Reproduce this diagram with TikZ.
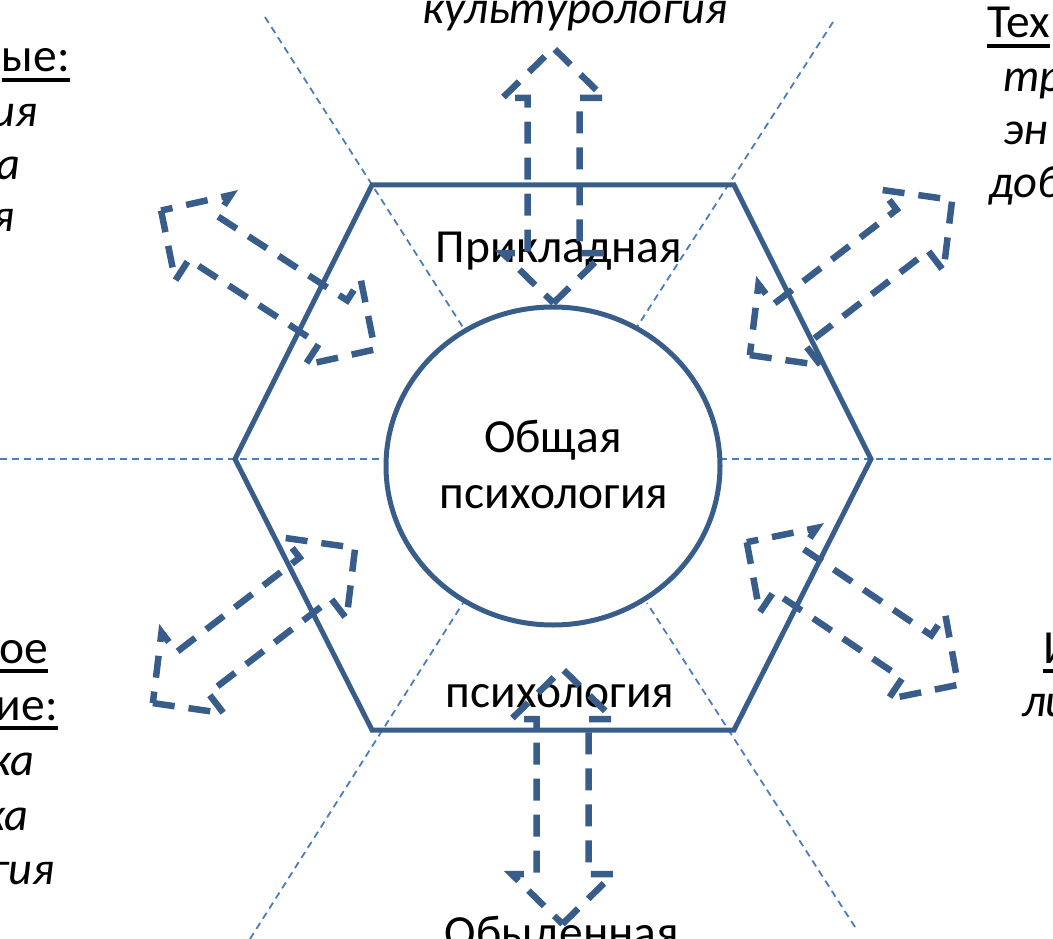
\documentclass[tikz,border=0pt]{standalone}
\usepackage{fontspec}
\setmainfont{Carlito}
\usetikzlibrary{shapes.geometric}
\definecolor{hexblue}{RGB}{56,93,138}
\definecolor{guideblue}{RGB}{74,126,187}
\newcommand\myul[1]{\setbox0\hbox{#1}\rlap{\rule[-10pt]{\wd0}{4pt}}\box0}
\begin{document}
\begin{tikzpicture}[x=1pt,y=-1pt,
  hexline/.style={draw=hexblue,line width=5pt,line join=miter},
  guide/.style={draw=guideblue,line width=1.8pt,dash pattern=on 7pt off 5pt},
  blockarrow/.style={draw=hexblue,line width=6.5pt,dash pattern=on 22pt off 14pt,line join=miter},
  lbl/.style={font=\fontsize{47.5}{57}\selectfont,inner sep=0pt},
  ilbl/.style={font=\fontsize{46.5}{56}\selectfont\itshape,inner sep=0pt},
  dblarrow/.pic={\draw[blockarrow] (-127.5,0) -- (-77.5,51) -- (-77.5,26) -- (77.5,26) -- (77.5,51) -- (127.5,0) -- (77.5,-51) -- (77.5,-26) -- (-77.5,-26) -- (-77.5,-51) -- cycle;}]
\useasboundingbox (0,0) rectangle (1053,939);
% guide lines
\coordinate (gL1) at (0,459);   \coordinate (gL2) at (386,459);
\coordinate (gR1) at (720,459); \coordinate (gR2) at (1053,459);
\coordinate (gTL1) at (265,17); \coordinate (gTL2) at (464,329);
\coordinate (gTR1) at (833,22); \coordinate (gTR2) at (637,327);
\coordinate (gBL1) at (250,939); \coordinate (gBL2) at (463,603);
\coordinate (gBR1) at (855,927); \coordinate (gBR2) at (647,603);
\draw[guide] (gL1) -- (gL2);
\draw[guide] (gR1) -- (gR2);
\draw[guide] (gTL1) -- (gTL2);
\draw[guide] (gTR1) -- (gTR2);
\draw[guide] (gBL1) -- (gBL2);
\draw[guide] (gBR1) -- (gBR2);
% hexagon
\draw[hexline] (372,185) -- (734,185) -- (871,459) -- (734,730) -- (372,730) -- (235,459) -- cycle;
% circle
\node[draw=hexblue,line width=5pt,ellipse,minimum width=334pt,minimum height=318pt,inner sep=0pt] (core) at (553,466) {};
% texts
\node[lbl,anchor=base] (obsh) at (553,452) {Общая};
\node[lbl,anchor=base] (psy) at (554,508) {психология};
\node[lbl,anchor=base] (prikl) at (559,262) {Прикладная};
\node[lbl,anchor=base] (psyb) at (560,707) {психология};
\node[lbl,anchor=base] (obyd) at (562,948) {Обыденная};
\node[ilbl,anchor=base] (kult) at (575,24) {культурология};
% left top fragments
\node[lbl,anchor=base east] (lt1) at (70,72) {\myul{ые:}};
\node[ilbl,anchor=base east] (lt2) at (38,127) {ия};
\node[ilbl,anchor=base east] (lt3) at (21,180) {а};
\node[ilbl,anchor=base east] (lt4) at (15,232) {я};
% right top fragments
\node[lbl,anchor=base west] (rt1) at (987,38) {\myul{Тех}};
\node[ilbl,anchor=base west] (rt2) at (1003,92) {тр};
\node[ilbl,anchor=base west] (rt3) at (1003,145) {эн};
\node[ilbl,anchor=base west] (rt4) at (989,198) {доб};
% left bottom fragments
\node[lbl,anchor=base east] (lb1) at (48,663) {\myul{ое}};
\node[lbl,anchor=base east] (lb2) at (58,720) {\myul{ие:}};
\node[ilbl,anchor=base east] (lb3) at (35,775) {ка};
\node[ilbl,anchor=base east] (lb4) at (29,830) {ка};
\node[ilbl,anchor=base east] (lb5) at (55,884) {гия};
% right bottom fragments
\node[lbl,anchor=base west] (rb1) at (1043,663) {\myul{И}};
\node[ilbl,anchor=base west] (rb2) at (1022,716) {ли};
% arrows
\pic[rotate=90] at (553.5,175.5) {dblarrow};
\pic[rotate=90] at (562.5,796.5) {dblarrow};
\pic[rotate=-33] at (268,280) {dblarrow};
\pic[rotate=37.5] at (851,277.5) {dblarrow};
\pic[rotate=37.5] at (254,625.5) {dblarrow};
\pic[rotate=-34] at (852.5,613.5) {dblarrow};
\end{tikzpicture}
\end{document}
